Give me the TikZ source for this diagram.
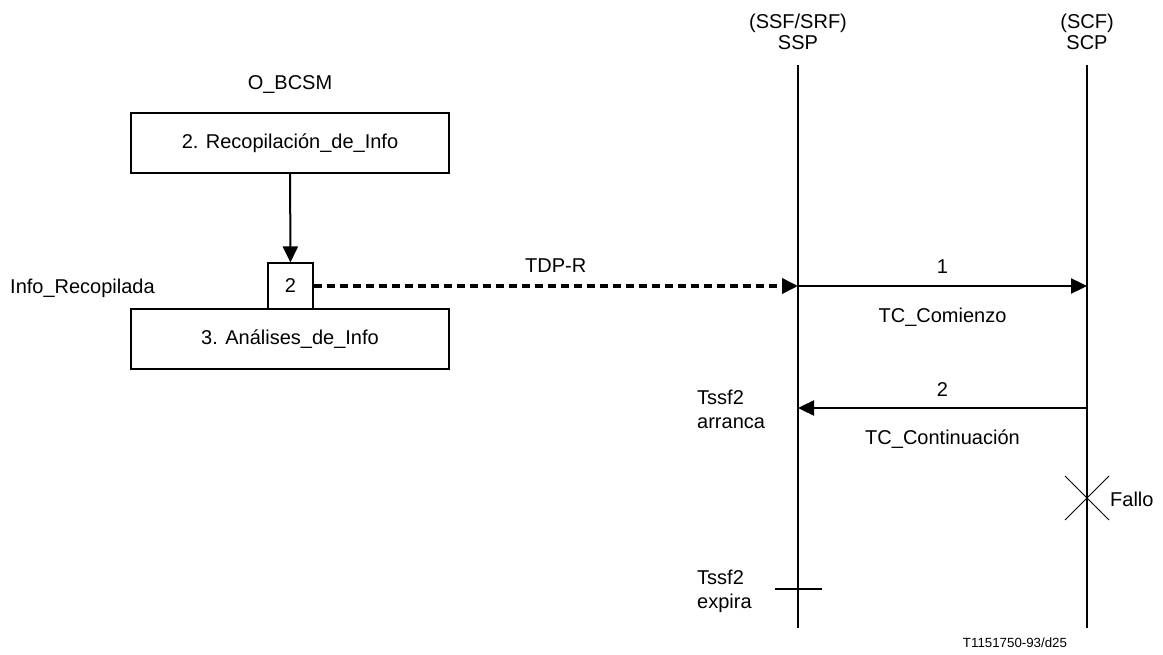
\documentclass[tikz,border=0pt]{standalone}
\usepackage{fontspec}
\setmainfont{Liberation Sans}
\usetikzlibrary{arrows.meta,positioning}
\begin{document}
\begin{tikzpicture}[x=1pt,y=-1pt,font=\fontsize{20}{24}\selectfont,
      caja/.style={draw,line width=1.1pt,minimum width=318pt,minimum height=60pt,inner sep=0pt},
      vida/.style={line width=2.4pt},
      msg/.style={line width=2.4pt,-{Triangle[length=16pt,width=15pt]}},
      etq/.style={inner sep=0pt},
      txt/.style={inner sep=0pt,align=left}]
      \useasboundingbox (0,0) rectangle (1163,655);
      \node[align=center,inner sep=0pt,font=\fontsize{20}{20.5}\selectfont] (ssp) at (798,32) {(SSF/SRF)\\SSP};
      \node[align=center,inner sep=0pt,font=\fontsize{20}{20.5}\selectfont] (scp) at (1087,32) {(SCF)\\SCP};
      \coordinate (sspfin) at (798,628);
      \coordinate (scpfin) at (1087,628);
      \draw[vida] (ssp.south |- 0,65) -- (sspfin);
      \draw[vida] (scp.south |- 0,65) -- (scpfin);
      \node[etq] (obcsm) at (290,85) {O\_BCSM};
      \node[caja] (recop) at (290,143) {2. Recopilación\_de\_Info};
      \node[caja] (analisis) at (290,339) {3. Análises\_de\_Info};
      \node[draw,line width=1.1pt,minimum width=45pt,minimum height=46pt,inner sep=0pt] (pic) at (290.5,286) {2};
      \node[txt,anchor=west] (inforec) at (10,288) {Info\_Recopilada};
      \draw[line width=2pt,-{Triangle[length=16pt,width=15pt]}] (recop) -- (pic);
      \coordinate (tdp) at (798,286);
      \draw[line width=3.6pt,dash pattern=on 8pt off 5pt,-{Triangle[length=16pt,width=15pt]}] (pic.east) -- (tdp)
        node[etq,midway,above=12pt] (tdplbl) {TDP-R};
      \coordinate (m1) at (1087,286);
      \draw[msg] (tdp) -- (m1) node[etq,midway,above=11pt] (uno) {1} node[etq,midway,below=21pt] (comienzo) {TC\_Comienzo};
      \coordinate (m2a) at (1087,408);
      \coordinate (m2b) at (798,408);
      \draw[msg] (m2a) -- (m2b) node[etq,midway,above=10pt] (dos) {2} node[etq,midway,below=21pt] (contin) {TC\_Continuación};
      \node[txt,anchor=north west] (arranca) at (697,390) {Tssf2\\arranca};
      \draw[line width=0.9pt] (1065,476) -- (1109,520) (1065,520) -- (1109,476);
      \node[txt,anchor=west] (fallo) at (1110,499) {Fallo};
      \coordinate (expa) at (775,589);
      \coordinate (expb) at (822,589);
      \draw[line width=2pt] (expa) -- (expb);
      \node[txt,anchor=north west] (expira) at (697,570) {Tssf2\\expira};
      \node[etq,font=\fontsize{13.3}{15}\selectfont] (ref) at (1015,643) {T1151750-93/d25};
    \end{tikzpicture}
\end{document}
